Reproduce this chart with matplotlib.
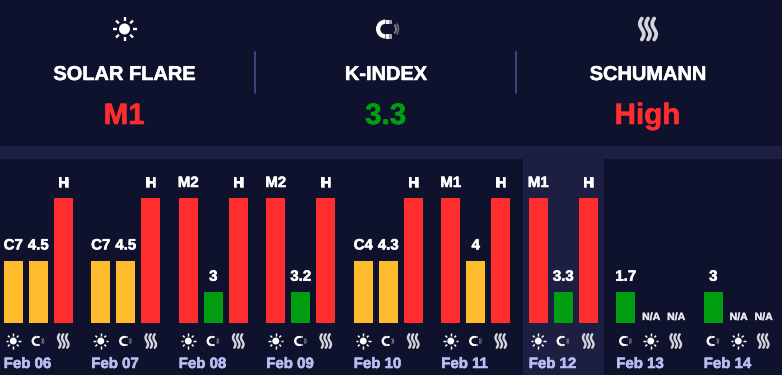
import numpy as np
import matplotlib
matplotlib.use("Agg")
import matplotlib.pyplot as plt
import matplotlib.patheffects as pe
from matplotlib.patches import Circle, Wedge, Rectangle, Arc

plt.rcParams['font.family'] = ['Liberation Sans', 'DejaVu Sans']
plt.rcParams['text.hinting'] = 'no_hinting'
plt.rcParams['text.hinting_factor'] = 1

BG = "#0e122d"
BAND = "#1c1f42"
RED = "#ff2d2d"
ORANGE = "#ffbb2c"
GREEN = "#009e10"
DATE_COL = "#b6bef4"

# summary row
head_titles = ["SOLAR FLARE", "K-INDEX", "SCHUMANN"]
head_values = ["M1", "3.3", "High"]
head_colors = [RED, GREEN, RED]
head_icons = ["sun", "magnet", "wave"]

# forecast
dates = ["Feb 06", "Feb 07", "Feb 08", "Feb 09", "Feb 10", "Feb 11", "Feb 12", "Feb 13", "Feb 14"]
flare_labels = ["C7", "C7", "M2", "M2", "C4", "M1", "M1", "N/A", "N/A"]
flare_levels = [2, 2, 4, 4, 2, 4, 4, 0, 0]
kp_labels = ["4.5", "4.5", "3", "3.2", "4.3", "4", "3.3", "1.7", "3"]
kp_levels = [2, 2, 1, 1, 2, 2, 1, 1, 1]
sch_labels = ["H", "H", "H", "H", "H", "H", "H", "N/A", "N/A"]
sch_levels = [4, 4, 4, 4, 4, 4, 4, 0, 0]
today = "Feb 12"
level_colors = {1: GREEN, 2: ORANGE, 4: RED}


def px(size):
    return size * 72 / 100


def heavy(col, w=0.4):
    # browser text is a bit heavier than agg's
    return [pe.withStroke(linewidth=w, foreground=col)]


def draw_sun(ax, x, y, s):
    ax.add_patch(Circle((x, y), 0.55 * s, color="white", lw=0, zorder=5))
    for a in np.arange(0, 360, 45):
        c, d = np.cos(np.radians(a)), np.sin(np.radians(a))
        ax.plot([x + 0.8 * s * c, x + 1.2 * s * c], [y + 0.8 * s * d, y + 1.2 * s * d],
                color="white", lw=s * 0.17, solid_capstyle="butt", zorder=5)


def draw_magnet(ax, x, y, s):
    ax.add_patch(Wedge((x, y), s, 90, 270, width=0.45 * s, color="white", lw=0, zorder=5))
    ax.add_patch(Rectangle((x, y - s), 0.35 * s, 0.45 * s, color="#f0f0f0", lw=0, zorder=5))
    ax.add_patch(Rectangle((x, y + 0.55 * s), 0.35 * s, 0.45 * s, color="#f0f0f0", lw=0, zorder=5))
    ax.add_patch(Rectangle((x + 0.35 * s, y - s), 0.35 * s, 0.45 * s, color="#a0a0aa", lw=0, zorder=5))
    ax.add_patch(Rectangle((x + 0.35 * s, y + 0.55 * s), 0.35 * s, 0.45 * s, color="#a0a0aa", lw=0, zorder=5))
    ax.add_patch(Arc((x + 0.75 * s, y), 0.7 * s, 1.0 * s, theta1=-70, theta2=70,
                     color="#8a8a96", lw=s * 0.13, zorder=5))
    ax.add_patch(Arc((x + 0.85 * s, y), 1.0 * s, 1.5 * s, theta1=-60, theta2=60,
                     color="#6c6c7a", lw=s * 0.13, zorder=5))


def draw_wave(ax, x, y, s):
    t = np.linspace(-1, 1, 60)
    for off in (-0.62, 0, 0.62):
        ax.plot(x + off * s + 0.2 * s * np.sin(t * np.pi), y + t * 1.05 * s,
                color="#d4d4da", lw=s * 0.27, solid_capstyle="round", zorder=5)


icon_fn = {"sun": draw_sun, "magnet": draw_magnet, "wave": draw_wave}

fig = plt.figure(figsize=(7.82, 3.75), dpi=100, facecolor=BG)
ax = fig.add_axes([0, 0, 1, 1])
ax.set_xlim(0, 782)
ax.set_ylim(375, 0)
ax.axis("off")

# band + today's column
ax.add_patch(Rectangle((0, 146), 782, 13, color=BAND, lw=0))
today_x = 3.75 + 87.5 * dates.index(today)
ax.add_patch(Rectangle((today_x - 6, 159), 81, 216, color=BAND, lw=0))

for x in [255, 516]:
    ax.plot([x, x], [52, 93], color="#4a5296", lw=1.1)

for x, title, val, col, ic in zip([124.5, 386, 648], head_titles, head_values, head_colors, head_icons):
    icon_fn[ic](ax, x - 0.5 if ic == "magnet" else x, 29, 9.5 if ic == "magnet" else 10)
    ax.text(x, 80, title, color="white", fontsize=px(20), fontweight="bold", ha="center", va="baseline",
            path_effects=heavy("white"))
    ax.text(x, 124, val, color=col, fontsize=px(29.5), fontweight="bold", ha="center", va="baseline",
            path_effects=heavy(col))

# bars live in their own axes, y is the level
ax_bars = fig.add_axes([0, (375 - 323) / 375, 1, 125 / 375])
ax_bars.set_xlim(0, 782)
ax_bars.set_ylim(0, 4)
ax_bars.axis("off")
ax_bars.patch.set_alpha(0)

bar_w = 19
for i, d in enumerate(dates):
    x0 = 3.75 + 87.5 * i
    items = [("sun", flare_labels[i], flare_levels[i]),
             ("magnet", kp_labels[i], kp_levels[i]),
             ("wave", sch_labels[i], sch_levels[i])]
    # days without a flare forecast lead with the k-index
    if flare_levels[i] == 0:
        items = [items[1], items[0], items[2]]
    for j, (ic, lab, lev) in enumerate(items):
        xb = x0 + 25 * j
        xc = xb + bar_w / 2
        if lev > 0:
            ax_bars.bar(xb, lev, width=bar_w, align="edge", color=level_colors[lev])
            ax_bars.annotate(lab, (xc, lev), xytext=(0, px(11)), textcoords="offset points",
                             color="white", fontsize=px(15), fontweight="bold",
                             ha="center", va="baseline", annotation_clip=False,
                             path_effects=heavy("white"))
        else:
            ax_bars.annotate(lab, (xc, 0), xytext=(0, px(3)), textcoords="offset points",
                             color="#e8e8ee", fontsize=px(10.5), fontweight="bold",
                             ha="center", va="baseline", annotation_clip=False,
                             path_effects=heavy("#e8e8ee", 0.25))
        sz = {"sun": 6.3, "magnet": 5.2, "wave": 6.4}[ic]
        icon_fn[ic](ax, xc - (1.5 if ic == "magnet" else 0), 341, sz)
    ax.text(x0, 368, d, color=DATE_COL, fontsize=px(15), fontweight="bold", ha="left", va="baseline",
            path_effects=heavy(DATE_COL))

fig.savefig("out.png", dpi=100, facecolor=BG)
